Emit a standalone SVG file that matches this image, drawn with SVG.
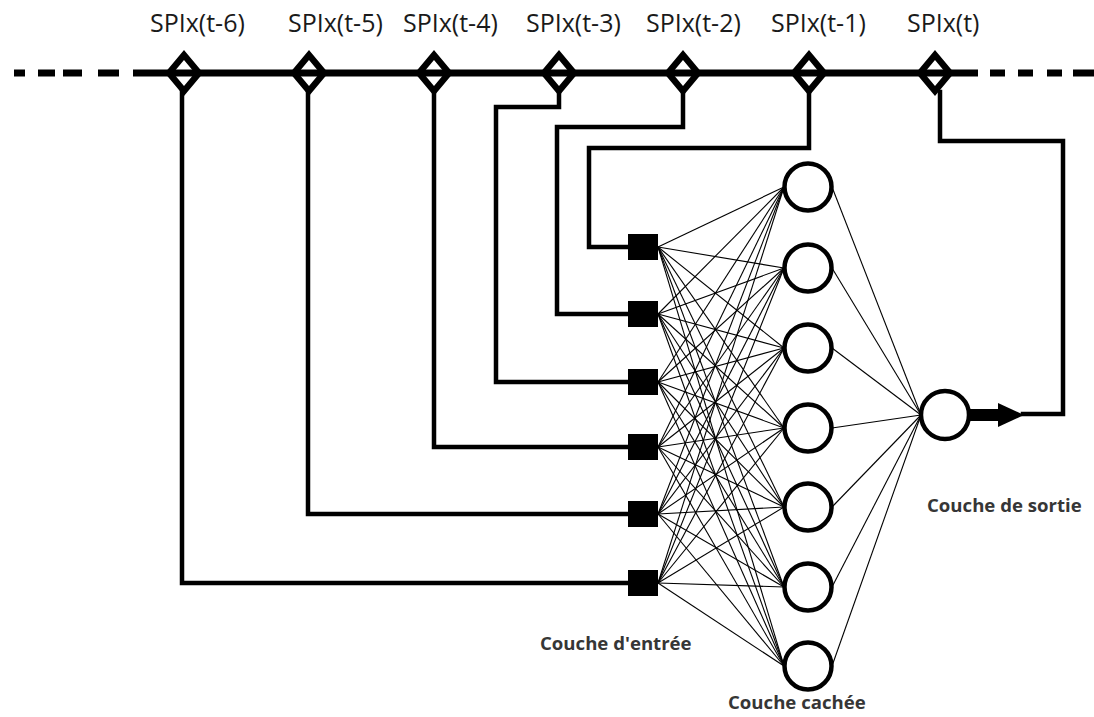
<svg xmlns="http://www.w3.org/2000/svg" width="1094" height="717" viewBox="0 0 1094 717">
<defs>
<style>
.bus{stroke:#000;stroke-width:7;fill:none}
.wire{stroke:#000;stroke-width:4.5;fill:none;stroke-linejoin:miter;stroke-linecap:square}
.thin line{stroke:#000;stroke-width:1.1}
.dia{fill:#fff;stroke:#000;stroke-width:6.5;stroke-linejoin:miter}
.inp{fill:#000}
.hid{fill:#fff;stroke:#000;stroke-width:4.5}
.lbl{font-family:"Open Sans","Noto Sans",sans-serif;font-size:25px;fill:#1a1a1a}
.lay{font-family:"Open Sans","Noto Sans",sans-serif;font-size:18.6px;font-weight:bold;fill:#363636}
</style>
<polygon id="diamond" points="0,-18 15,0 0,18 -15,0"/>
</defs>
<rect width="1094" height="717" fill="#fff"/>

<g id="connectors">
  <g id="weights" class="thin">
    <line x1="658" y1="247" x2="784" y2="187"/><line x1="658" y1="247" x2="784" y2="268"/><line x1="658" y1="247" x2="784" y2="348"/><line x1="658" y1="247" x2="784" y2="428"/><line x1="658" y1="247" x2="784" y2="507"/><line x1="658" y1="247" x2="784" y2="587"/><line x1="658" y1="247" x2="784" y2="666"/>
    <line x1="658" y1="314" x2="784" y2="187"/><line x1="658" y1="314" x2="784" y2="268"/><line x1="658" y1="314" x2="784" y2="348"/><line x1="658" y1="314" x2="784" y2="428"/><line x1="658" y1="314" x2="784" y2="507"/><line x1="658" y1="314" x2="784" y2="587"/><line x1="658" y1="314" x2="784" y2="666"/>
    <line x1="658" y1="382" x2="784" y2="187"/><line x1="658" y1="382" x2="784" y2="268"/><line x1="658" y1="382" x2="784" y2="348"/><line x1="658" y1="382" x2="784" y2="428"/><line x1="658" y1="382" x2="784" y2="507"/><line x1="658" y1="382" x2="784" y2="587"/><line x1="658" y1="382" x2="784" y2="666"/>
    <line x1="658" y1="447" x2="784" y2="187"/><line x1="658" y1="447" x2="784" y2="268"/><line x1="658" y1="447" x2="784" y2="348"/><line x1="658" y1="447" x2="784" y2="428"/><line x1="658" y1="447" x2="784" y2="507"/><line x1="658" y1="447" x2="784" y2="587"/><line x1="658" y1="447" x2="784" y2="666"/>
    <line x1="658" y1="514" x2="784" y2="187"/><line x1="658" y1="514" x2="784" y2="268"/><line x1="658" y1="514" x2="784" y2="348"/><line x1="658" y1="514" x2="784" y2="428"/><line x1="658" y1="514" x2="784" y2="507"/><line x1="658" y1="514" x2="784" y2="587"/><line x1="658" y1="514" x2="784" y2="666"/>
    <line x1="658" y1="583" x2="784" y2="187"/><line x1="658" y1="583" x2="784" y2="268"/><line x1="658" y1="583" x2="784" y2="348"/><line x1="658" y1="583" x2="784" y2="428"/><line x1="658" y1="583" x2="784" y2="507"/><line x1="658" y1="583" x2="784" y2="587"/><line x1="658" y1="583" x2="784" y2="666"/>
    <line x1="832" y1="187" x2="921" y2="415"/><line x1="832" y1="268" x2="921" y2="415"/><line x1="832" y1="348" x2="921" y2="415"/><line x1="832" y1="428" x2="921" y2="415"/><line x1="832" y1="507" x2="921" y2="415"/><line x1="832" y1="587" x2="921" y2="415"/><line x1="832" y1="666" x2="921" y2="415"/>
  </g>
  <g id="taps">
    <path class="wire" d="M182,92 V583 H628"/>
    <path class="wire" d="M308,92 V514 H628"/>
    <path class="wire" d="M434,92 V447 H628"/>
    <path class="wire" d="M559,92 V107 H496 V382 H628"/>
    <path class="wire" d="M683,92 V127 H557 V314 H628"/>
    <path class="wire" d="M809,92 V148 H589 V247 H628"/>
    <path class="wire" d="M940,92 V141 H1063 V414 H1023"/>
  </g>
  <g id="output-arrow">
    <path d="M968,415 H1000" stroke="#000" stroke-width="12" fill="none"/>
    <polygon points="998,403 1024,415 998,427" fill="#000"/>
  </g>
</g>

<g id="time-axis">
  <use href="#diamond" class="dia" x="184" y="73"/>
  <use href="#diamond" class="dia" x="309" y="73"/>
  <use href="#diamond" class="dia" x="434" y="73"/>
  <use href="#diamond" class="dia" x="559" y="73"/>
  <use href="#diamond" class="dia" x="683" y="73"/>
  <use href="#diamond" class="dia" x="809" y="73"/>
  <use href="#diamond" class="dia" x="935" y="73"/>
  <path class="bus" d="M133,73 H978"/>
  <path class="bus" d="M14,73 H25 M38,73 H55 M63,73 H82 M98,73 H119 M990,73 H1005 M1018,73 H1033 M1047,73 H1062 M1073,73 H1094"/>
</g>

<g id="labels-time">
  <text class="lbl" x="150" y="32">SPIx(t-6)</text>
  <text class="lbl" x="288" y="32">SPIx(t-5)</text>
  <text class="lbl" x="403" y="32">SPIx(t-4)</text>
  <text class="lbl" x="526" y="32">SPIx(t-3)</text>
  <text class="lbl" x="646" y="32">SPIx(t-2)</text>
  <text class="lbl" x="771" y="32">SPIx(t-1)</text>
  <text class="lbl" x="907" y="32">SPIx(t)</text>
</g>

<g id="input-layer">
  <rect class="inp" x="628" y="234" width="30" height="26"/>
  <rect class="inp" x="628" y="301" width="30" height="26"/>
  <rect class="inp" x="628" y="369" width="30" height="26"/>
  <rect class="inp" x="628" y="434" width="30" height="26"/>
  <rect class="inp" x="628" y="501" width="30" height="26"/>
  <rect class="inp" x="628" y="570" width="30" height="26"/>
  <text class="lay" x="540" y="650">Couche d'entrée</text>
</g>

<g id="hidden-layer">
  <circle class="hid" cx="808" cy="187" r="23.5"/>
  <circle class="hid" cx="808" cy="268" r="23.5"/>
  <circle class="hid" cx="808" cy="348" r="23.5"/>
  <circle class="hid" cx="808" cy="428" r="23.5"/>
  <circle class="hid" cx="808" cy="507" r="23.5"/>
  <circle class="hid" cx="808" cy="587" r="23.5"/>
  <circle class="hid" cx="808" cy="666" r="23.5"/>
  <text class="lay" x="728" y="709">Couche cachée</text>
</g>

<g id="output-layer">
  <circle class="hid" cx="945" cy="415" r="24"/>
  <text class="lay" x="927" y="512">Couche de sortie</text>
</g>
</svg>
